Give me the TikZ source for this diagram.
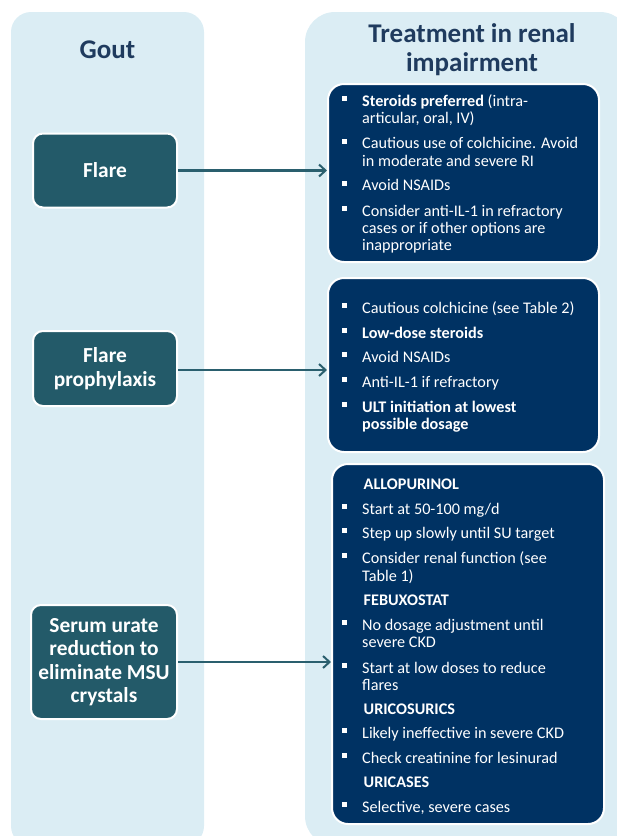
\documentclass[tikz,border=0pt]{standalone}
\usepackage{fontspec}
\setmainfont{Carlito}
\usetikzlibrary{arrows.meta}
\definecolor{panelbg}{HTML}{DBEDF4}
\definecolor{tealbox}{HTML}{235A69}
\definecolor{navybox}{HTML}{003263}
\definecolor{titlecol}{HTML}{1F3B5E}
\definecolor{arrowcol}{HTML}{2A5F6E}
\newcount\lnc
\newcommand{\blt}[2]{%
  \global\advance\lnc by 1
  \fill[white] (342.3,#1-9.8) rectangle ++(5,5);
  \node[txtline, name=ln\the\lnc] at (362,#1) {#2};}
\newcommand{\cnt}[2]{%
  \global\advance\lnc by 1
  \node[txtline, name=ln\the\lnc] at (362,#1) {#2};}
\newcommand{\hdr}[2]{%
  \global\advance\lnc by 1
  \node[txtline, name=ln\the\lnc, font=\fontsize{16.2}{17.5}\selectfont\bfseries] at (363.5,#1) {#2};}
\begin{document}
\begin{tikzpicture}[x=1pt,y=-1pt,
  panel/.style={fill=panelbg},
  leftbox/.style={draw=white, line width=2pt, fill=tealbox, rounded corners=10pt, text=white,
    font=\fontsize{21.4}{23.5}\selectfont\bfseries, align=center, inner sep=0pt, minimum width=144pt},
  rightbox/.style={draw=white, line width=2pt, fill=navybox, rounded corners=16pt, inner sep=0pt},
  txtline/.style={anchor=base west, inner sep=0pt, text=white, font=\fontsize{16.2}{17.5}\selectfont},
  titletxt/.style={text=titlecol, font=\fontsize{27}{28.5}\selectfont\bfseries, align=center, inner sep=0pt},
  arr/.style={draw=arrowcol, line width=2.2pt, -{Straight Barb[length=6.5pt, width=12pt, line width=2pt]}}
]
\useasboundingbox (0,0) rectangle (617,836);
% panels
\fill[panel, rounded corners=20pt] (11,12) rectangle (204,846);
\fill[panel, rounded corners=30pt] (305,12) rectangle (630,846);
% titles
\node[titletxt, anchor=base] (gout) at (107.5,58) {Gout};
\node[titletxt, anchor=base] (treat1) at (472,42) {Treatment in renal};
\node[titletxt, anchor=base] (treat2) at (472,71) {impairment};
% left boxes
\node[leftbox, minimum height=74pt] (flare) at (105,170.5) {Flare};
\node[leftbox, minimum height=75pt] (proph) at (105,368.5) {Flare\\prophylaxis};
\node[leftbox, minimum height=114pt, minimum width=146pt] (serum) at (104,662) {Serum urate\\reduction to\\eliminate MSU\\crystals};
% right boxes
\node[rightbox, minimum width=271pt, minimum height=178pt] (rb1) at (463.5,173) {};
\node[rightbox, minimum width=271pt, minimum height=174pt] (rb2) at (463.5,365) {};
\node[rightbox, minimum width=272pt, minimum height=360pt] (rb3) at (468,644) {};
% arrows
\draw[arr] (flare.east) -- (flare.east -| rb1.west);
\draw[arr] ([yshift=-1.5pt]proph.east) -- ([yshift=-1.5pt]proph.east -| rb2.west);
\draw[arr] (serum.east) -- (serum.east -| rb3.west);
% box 1 text
\blt{106}{\textbf{Steroids preferred} (intra-}
\cnt{123.5}{articular, oral, IV)}
\blt{148.5}{Cautious use of colchicine. Avoid}
\cnt{166}{in moderate and severe RI}
\blt{190.5}{Avoid NSAIDs}
\blt{216}{Consider anti-IL-1 in refractory}
\cnt{233}{cases or if other options are}
\cnt{250}{inappropriate}
% box 2 text
\blt{313}{Cautious colchicine (see Table 2)}
\blt{338}{\textbf{Low-dose steroids}}
\blt{362}{Avoid NSAIDs}
\blt{387}{Anti-IL-1 if refractory}
\blt{412}{\textbf{ULT initiation at lowest}}
\cnt{429}{\textbf{possible dosage}}
% box 3 text
\hdr{489}{ALLOPURINOL}
\blt{514}{Start at 50-100 mg/d}
\blt{538}{Step up slowly until SU target}
\blt{563}{Consider renal function (see}
\cnt{581}{Table 1)}
\hdr{605}{FEBUXOSTAT}
\blt{630}{No dosage adjustment until}
\cnt{647}{severe CKD}
\blt{673}{Start at low doses to reduce}
\cnt{690}{flares}
\hdr{714}{URICOSURICS}
\blt{738}{Likely ineffective in severe CKD}
\blt{763}{Check creatinine for lesinurad}
\hdr{787}{URICASES}
\blt{812}{Selective, severe cases}
\end{tikzpicture}
\end{document}
